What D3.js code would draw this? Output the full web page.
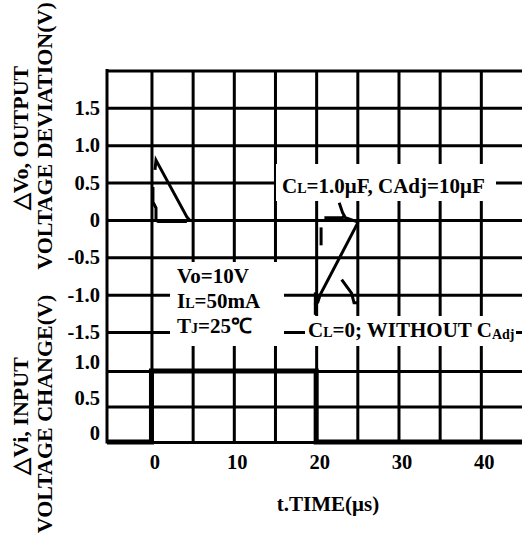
<!DOCTYPE html>
<html>
<head>
<meta charset="utf-8">
<script src="https://cdn.jsdelivr.net/npm/d3@7"></script>
<style>
  body { margin: 0; background: #fff; }
  text { font-family: "Liberation Serif", "Times New Roman", serif; font-weight: bold; fill: #000; }
</style>
</head>
<body>
<div id="chart"></div>
<script>
// time axis, microseconds
const timeTicks = [0, 10, 20, 30, 40];
const timeGrid = [0, 5, 10, 15, 20, 25, 30, 35, 40];

// output deviation panel (V)
const outTicks = [1.5, 1.0, 0.5, 0, -0.5, -1.0, -1.5];
const outGrid = [2.0, 1.5, 1.0, 0.5, 0, -0.5, -1.0, -1.5];

// input change panel (V)
const inTicks = [1.0, 0.5, 0];

// input step [t, V]
const inputStep = [[-5.4, 0], [0, 0], [0, 1], [20, 1], [20, 0], [46, 0]];

// output traces [t, V]
const riseCl = [[0.43, 0.67], [0.55, 0.80], [4.3, 0.04], [4.7, -0.01]];
const riseNoCl = [[0.18, 0.44], [0.18, 0.24], [0.55, 0.16], [0.55, 0.0], [0.8, -0.02], [4.3, -0.02]];
const fallCl = [[20.6, -0.34], [20.6, -0.10]];
const fallClTail = [[21.0, 0.03], [23.2, 0.03], [23.3, 0.04], [25.1, -0.03]];
const fallClSpike = [[22.8, 0.23], [23.2, 0.10], [23.5, 0.04]];
const fallNoCl = [[19.9, -1.27], [19.9, -0.97]];
const fallNoClRamp = [[19.8, -1.14], [20.2, -1.10], [20.5, -1.0], [25.1, -0.03]];
const fallNoClTail = [[23.1, -0.80], [24.3, -0.98], [24.6, -1.11], [25.0, -1.11]];

const outTraces = [riseCl, riseNoCl, fallCl, fallClTail, fallClSpike, fallNoCl, fallNoClRamp, fallNoClTail];

const width = 522, height = 533;
const plotLeft = 107, plotTop = 70.5, plotRight = 530, plotBottom = 442;

const svg = d3.select('#chart').append('svg')
    .attr('width', width)
    .attr('height', height);

const x = d3.scaleLinear().domain([-5.4, 45]).range([107, 522]);
const yOut = d3.scaleLinear().domain([-1.5, 2]).range([332, 70.5]);
const yIn = d3.scaleLinear().domain([0, 1]).range([442, 371]);

const fmt = d => d === 0 ? '0' : d.toFixed(1);

// grid
svg.append('g')
    .attr('class', 'grid')
    .attr('transform', `translate(0,${plotBottom})`)
    .call(d3.axisBottom(x).tickValues(timeGrid).tickSize(-(plotBottom - plotTop)).tickFormat(''));
svg.append('g')
    .attr('class', 'grid')
    .attr('transform', `translate(${plotLeft},0)`)
    .call(d3.axisLeft(yOut).tickValues(outGrid).tickSize(-(plotRight - plotLeft)).tickFormat(''));
svg.append('g')
    .attr('class', 'grid')
    .attr('transform', `translate(${plotLeft},0)`)
    .call(d3.axisLeft(yIn).tickValues(inTicks).tickSize(-(plotRight - plotLeft)).tickFormat(''));
svg.selectAll('.grid .domain').remove();
svg.selectAll('.grid line').attr('stroke', '#000').attr('stroke-width', 3);

// left frame
svg.append('line')
    .attr('x1', plotLeft).attr('x2', plotLeft)
    .attr('y1', plotTop - 1.5).attr('y2', plotBottom + 1.5)
    .attr('stroke', '#000').attr('stroke-width', 3);

// tick labels
const outAxis = svg.append('g')
    .attr('transform', `translate(${plotLeft},0)`)
    .call(d3.axisLeft(yOut).tickValues(outTicks).tickSize(0).tickPadding(7).tickFormat(fmt));
const inAxis = svg.append('g')
    .attr('transform', `translate(${plotLeft},-9)`)
    .call(d3.axisLeft(yIn).tickValues(inTicks).tickSize(0).tickPadding(7).tickFormat(fmt));
const tAxis = svg.append('g')
    .attr('transform', `translate(3,${plotBottom})`)
    .call(d3.axisBottom(x).tickValues(timeTicks).tickSize(0).tickPadding(12));
[outAxis, inAxis, tAxis].forEach(a => {
    a.select('.domain').remove();
    a.selectAll('text').attr('font-size', 20.5);
});

// annotation boxes
function note(bx, by, bw, bh, lines) {
    svg.append('rect')
        .attr('x', bx).attr('y', by).attr('width', bw).attr('height', bh)
        .attr('fill', '#fff');
    lines.forEach(l => {
        const t = svg.append('text').attr('x', l.x).attr('y', l.y).attr('font-size', 21);
        l.parts.forEach(p => {
            if (typeof p === 'string') {
                t.append('tspan').text(p);
            } else {
                t.append('tspan').attr('font-size', 14).attr('dy', p.dy).text(p.sub);
                t.append('tspan').attr('dy', -p.dy).text('');
            }
        });
    });
}

note(276, 164, 220, 37, [
    { x: 282, y: 193, parts: ['C', { sub: 'L', dy: 0 }, '=1.0\u03bcF, CAdj=10\u03bcF'] }
]);
note(305, 316, 211, 30, [
    { x: 308, y: 337, parts: ['C', { sub: 'L', dy: 0 }, '=0; WITHOUT C', { sub: 'Adj', dy: 2 }] }
]);
note(170, 262, 114, 84, [
    { x: 177, y: 283, parts: ['Vo=10V'] },
    { x: 177, y: 308, parts: ['I', { sub: 'L', dy: 0 }, '=50mA'] },
    { x: 177, y: 333, parts: ['T', { sub: 'J', dy: 0 }, '=25\u2103'] }
]);

// output traces
const lineOut = d3.line().x(d => x(d[0])).y(d => yOut(d[1]));
svg.selectAll('.trace')
    .data(outTraces)
    .enter()
    .append('path')
    .attr('class', 'trace')
    .attr('d', lineOut)
    .attr('fill', 'none')
    .attr('stroke', '#000')
    .attr('stroke-width', 3)
    .attr('stroke-linejoin', 'miter');

// input step
const lineIn = d3.line().x(d => x(d[0])).y(d => yIn(d[1]));
svg.append('path')
    .datum(inputStep)
    .attr('d', lineIn)
    .attr('fill', 'none')
    .attr('stroke', '#000')
    .attr('stroke-width', 5);

// axis titles
svg.append('text')
    .attr('x', 328).attr('y', 511)
    .attr('text-anchor', 'middle').attr('font-size', 21)
    .text('t.TIME(\u03bcs)');

const yTitles = [
    { x: 28, y: 138, text: '\u25b3Vo, OUTPUT' },
    { x: 52, y: 136, text: 'VOLTAGE DEVIATION(V)' },
    { x: 28, y: 416, text: '\u25b3Vi, INPUT' },
    { x: 52, y: 414, text: 'VOLTAGE CHANGE(V)' }
];
svg.selectAll('.ytitle')
    .data(yTitles)
    .enter()
    .append('text')
    .attr('class', 'ytitle')
    .attr('transform', d => `translate(${d.x},${d.y}) rotate(-90)`)
    .attr('text-anchor', 'middle')
    .attr('font-size', 22)
    .text(d => d.text);
</script>
</body>
</html>
